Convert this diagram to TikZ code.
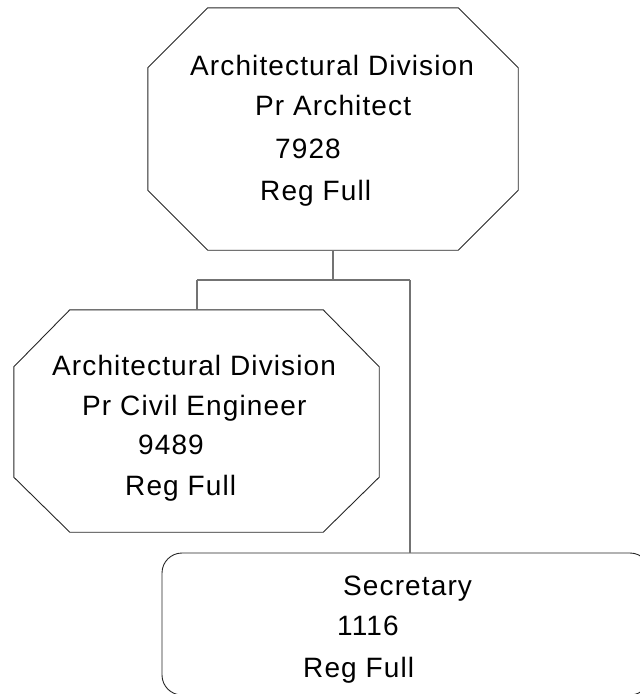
\documentclass[tikz,border=0pt]{standalone}
\usepackage{fontspec}
\setmainfont{Liberation Sans}[LetterSpace=4]
\begin{document}
\begin{tikzpicture}[x=1pt,y=-1pt,
  boxarea/.style={rectangle, draw=none, inner sep=0pt},
  outline/.style={draw=black!85, line width=0.9pt},
  secbox/.style={rectangle, draw=black!85, line width=0.9pt, rounded corners=20pt, inner sep=0pt},
  txt/.style={anchor=base west, inner sep=0pt, font=\fontsize{28}{34}\selectfont},
  conn/.style={draw=black!55, line width=1.4pt}]
\useasboundingbox (0,0) rectangle (640,694);
\clip (0,0) rectangle (640,694);
% boxes
\node[boxarea, minimum width=370pt, minimum height=242pt] (top) at (333,129) {};
\node[boxarea, minimum width=365pt, minimum height=222pt] (mid) at (196.5,421) {};
\node[secbox, minimum width=488pt, minimum height=142pt] (sec) at (406,624) {};
\draw[outline] ([xshift=60pt]top.north west) -- ([xshift=-60pt]top.north east)
  -- ([yshift=-60pt]top.north east) -- ([yshift=60pt]top.south east)
  -- ([xshift=-60pt]top.south east) -- ([xshift=60pt]top.south west)
  -- ([yshift=60pt]top.south west) -- ([yshift=-60pt]top.north west) -- cycle;
\draw[outline] ([xshift=56pt]mid.north west) -- ([xshift=-56pt]mid.north east)
  -- ([yshift=-57pt]mid.north east) -- ([yshift=55pt]mid.south east)
  -- ([xshift=-56pt]mid.south east) -- ([xshift=56pt]mid.south west)
  -- ([yshift=55pt]mid.south west) -- ([yshift=-57pt]mid.north west) -- cycle;
% connectors
\coordinate (bus) at (333,280);
\coordinate (busL) at (197,280);
\coordinate (busR) at (410,280);
\draw[conn] (top.south) -- (bus);
\draw[conn] (busL) -- (busR);
\draw[conn] (busL) -- (busL |- mid.north);
\draw[conn] (busR) -- (busR |- sec.north);
% texts
\node[txt] (t1) at (190,75) {Architectural Division};
\node[txt] (t2) at (255,115) {Pr Architect};
\node[txt] (t3) at (275,158) {7928};
\node[txt] (t4) at (260,200) {Reg Full};
\node[txt] (m1) at (52,375) {Architectural Division};
\node[txt] (m2) at (82,415) {Pr Civil Engineer};
\node[txt] (m3) at (138,454) {9489};
\node[txt] (m4) at (125,495) {Reg Full};
\node[txt] (s1) at (343,595) {Secretary};
\node[txt] (s2) at (337,635) {1116};
\node[txt] (s3) at (303,677) {Reg Full};
\end{tikzpicture}
\end{document}
